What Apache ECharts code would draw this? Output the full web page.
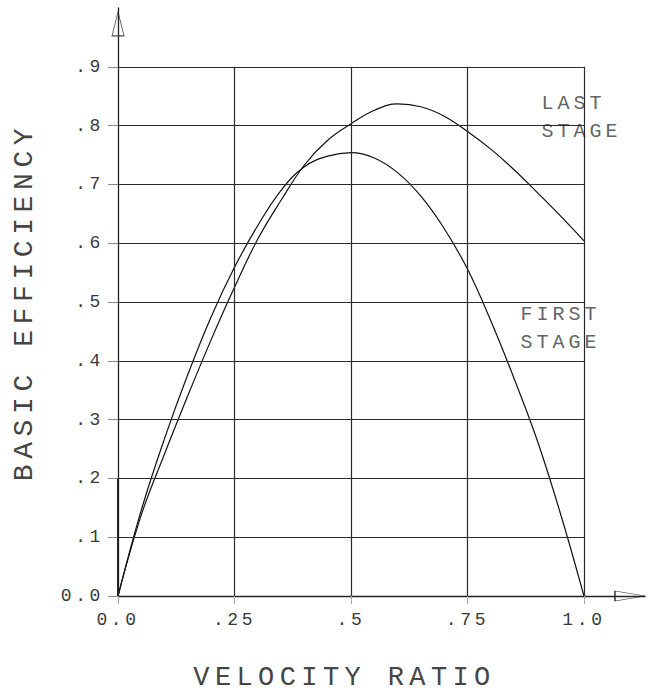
<!DOCTYPE html>
<html><head><meta charset="utf-8">
<script src="https://cdn.jsdelivr.net/npm/echarts@6/dist/echarts.min.js"></script>
<style>
html,body{margin:0;padding:0;background:#fff;}
#chart{width:653px;height:696px;}
#chart svg text{letter-spacing:0.2em;}
</style></head><body><div id="chart"></div>
<script>
const velocityRatio = [0,0.05,0.1,0.15,0.2,0.25,0.3,0.35,0.4,0.45,0.5,0.55,0.6,0.65,0.7,0.75,0.8,0.85,0.9,0.95,1.0];
const firstStage = [0,0.146,0.268,0.377,0.475,0.559,0.63,0.69,0.73,0.748,0.754,0.745,0.72,0.68,0.625,0.556,0.468,0.37,0.264,0.139,0];
const lastStage  = [0,0.138,0.242,0.341,0.436,0.525,0.607,0.673,0.733,0.775,0.803,0.826,0.837,0.832,0.816,0.79,0.76,0.725,0.686,0.646,0.604];
const xTicks = [0,0.25,0.5,0.75,1.0];
const xTickLabels = ['0.0','.25','.5','.75','1.0'];
const yTicks = [0,0.1,0.2,0.3,0.4,0.5,0.6,0.7,0.8,0.9];
const yTickLabels = ['0.0','.1','.2','.3','.4','.5','.6','.7','.8','.9'];

const FONT = "'Liberation Mono', 'DejaVu Sans Mono', monospace";
const xMaxTick = xTicks[xTicks.length-1];
const yMaxTick = yTicks[yTicks.length-1];

function labelFor(ticks, labels, v){
  for (let i=0;i<ticks.length;i++) if (Math.abs(ticks[i]-v)<1e-6) return labels[i];
  return '';
}
const gridLines = [];
yTicks.slice(1).forEach(y => gridLines.push([{coord:[0,y]},{coord:[xMaxTick,y]}]));
xTicks.slice(1).forEach(x => gridLines.push([{coord:[x,0]},{coord:[x,yMaxTick]}]));
// slightly heavier stroke on the axis near the origin, as in the plot
gridLines.push([{coord:[0,0],lineStyle:{width:2,color:'#222'}},{coord:[0,yTicks[2]]}]);

const chart = echarts.init(document.getElementById('chart'), null, {renderer:'svg'});
chart.setOption({
  animation:false,
  backgroundColor:'#fff',
  textStyle:{fontFamily:FONT,color:'#3a3a3a'},
  grid:{left:118,right:8,top:8,bottom:98,containLabel:false},
  xAxis:{
    type:'value',min:0,max:1.131,
    name:'VELOCITY RATIO',nameLocation:'middle',nameGap:68,
    nameTextStyle:{fontFamily:FONT,fontSize:27,color:'#454545',padding:[0,74,0,0]},
    axisLine:{show:true,lineStyle:{color:'#222',width:1.3}},
    axisTick:{show:true,customValues:xTicks,length:8,lineStyle:{color:'#aaa',width:1}},
    axisLabel:{customValues:xTicks,margin:15,fontFamily:FONT,fontSize:18,color:'#3a3a3a',
      formatter:v=>labelFor(xTicks,xTickLabels,v)},
    splitLine:{show:false}
  },
  yAxis:{
    type:'value',min:0,max:1.0,
    name:'BASIC EFFICIENCY',nameLocation:'middle',nameGap:80,nameRotate:90,
    nameTextStyle:{fontFamily:FONT,fontSize:28,color:'#454545'},
    axisLine:{show:true,lineStyle:{color:'#222',width:1.3}},
    axisTick:{show:true,customValues:yTicks,length:10,lineStyle:{color:'#888',width:1}},
    axisLabel:{customValues:yTicks,margin:14,fontFamily:FONT,fontSize:18,color:'#3a3a3a',
      formatter:v=>labelFor(yTicks,yTickLabels,v)},
    splitLine:{show:false}
  },
  series:[
    {
      name:'FIRST STAGE',type:'line',smooth:0.4,showSymbol:false,silent:true,
      data:velocityRatio.map((x,i)=>[x,firstStage[i]]),
      lineStyle:{color:'#111',width:1.2},
      markLine:{silent:true,symbol:['none','none'],label:{show:false},
        lineStyle:{color:'#2a2a2a',width:1.2,type:'solid'},data:gridLines}
    },
    {
      name:'LAST STAGE',type:'line',smooth:0.4,showSymbol:false,silent:true,
      data:velocityRatio.map((x,i)=>[x,lastStage[i]]),
      lineStyle:{color:'#111',width:1.2}
    },
    {
      name:'arrows',type:'scatter',silent:true,
      itemStyle:{color:'rgba(0,0,0,0)',borderColor:'#222',borderWidth:1},
      data:[
        {value:[0,0.973],symbol:'path://M5,0 L10,20 L0,20 Z',symbolSize:[12,24]},
        {value:[1.0987,0],symbol:'path://M0,0 L30,5 L0,10 Z',symbolSize:[30,10]}
      ]
    },
    {
      name:'annotations',type:'scatter',silent:true,symbolSize:1,
      itemStyle:{color:'rgba(0,0,0,0)'},
      label:{show:true,position:[0,0],align:'left',verticalAlign:'middle',
        fontFamily:FONT,fontSize:20,lineHeight:28,color:'#3a3a3a',formatter:p=>p.data.text},
      data:[
        {value:[0.91,0.8127],text:'LAST\nSTAGE'},
        {value:[0.865,0.4546],text:'FIRST\nSTAGE'}
      ]
    }
  ]
});
</script></body></html>
